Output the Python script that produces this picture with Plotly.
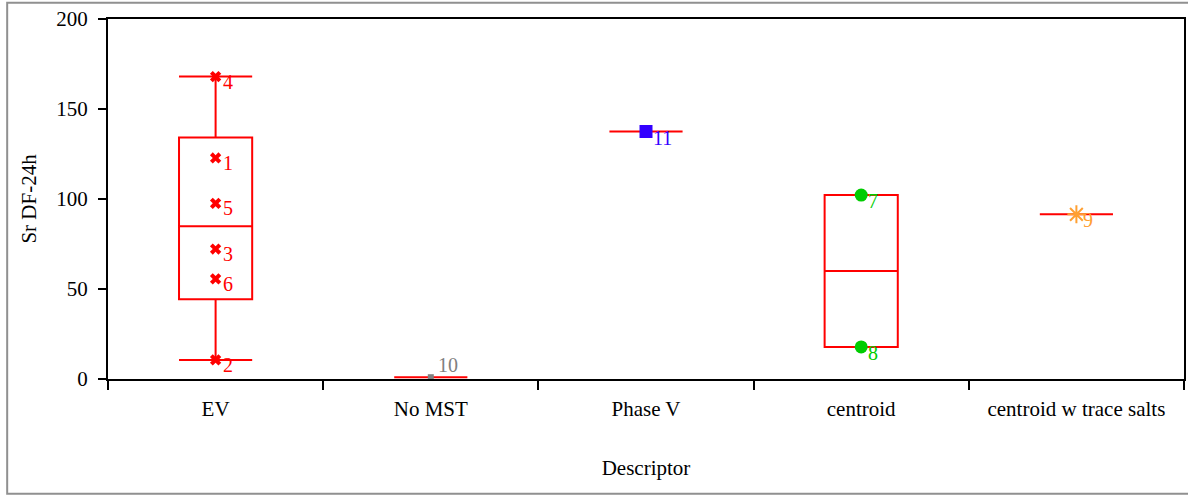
import numpy as np
import plotly.graph_objects as go

# Descriptor groups and the Sr DF-24h readings in each
categories = ["EV", "No MST", "Phase V", "centroid", "centroid w trace salts"]

ev_ids = ["4", "1", "5", "3", "6", "2"]
ev_vals = [168, 122.8, 97.6, 72.2, 55.6, 10.6]

nomst_ids = ["10"]
nomst_vals = [1.0]

phase_ids = ["11"]
phase_vals = [137.5]

centroid_ids = ["7", "8"]
centroid_vals = [102.2, 17.8]

salts_ids = ["9"]
salts_vals = [91.5]

groups = [
    ("EV", ev_ids, ev_vals, "#ff0000", "x", 10, -5),
    ("No MST", nomst_ids, nomst_vals, "#808080", "square", 6, 12),
    ("Phase V", phase_ids, phase_vals, "#3300ff", "square", 13, -6),
    ("centroid", centroid_ids, centroid_vals, "#00cc00", "circle", 13, -6),
    ("centroid w trace salts", salts_ids, salts_vals, "#ffa033", "asterisk-open", 15, -6),
]

FONT = "Liberation Serif, Times New Roman, serif"

# Box statistics: quantiles at p*(n+1), whiskers at the data extremes
names, q1s, meds, q3s, los, his = [], [], [], [], [], []
for name, ids, vals, *_ in groups:
    v = np.asarray(vals, dtype=float)
    names.append(name)
    q1s.append(float(np.percentile(v, 25, method="weibull")))
    meds.append(float(np.percentile(v, 50, method="weibull")))
    q3s.append(float(np.percentile(v, 75, method="weibull")))
    los.append(float(v.min()))
    his.append(float(v.max()))

fig = go.Figure()

fig.add_trace(go.Box(
    x=names,
    q1=q1s, median=meds, q3=q3s,
    lowerfence=los, upperfence=his,
    boxpoints=False,
    width=0.34,
    whiskerwidth=1,
    line=dict(color="#ff0000", width=2),
    fillcolor="rgba(0,0,0,0)",
    showlegend=False,
    hoverinfo="skip",
))

# Individual points, each tagged with its run number
annotations = []
for name, ids, vals, color, symbol, size, dy in groups:
    mline = dict(color=color, width=2) if symbol == "asterisk-open" else dict(width=0)
    fig.add_trace(go.Scatter(
        x=[name] * len(vals), y=vals,
        mode="markers",
        marker=dict(symbol=symbol, size=size, color=color, line=mline),
        showlegend=False,
        cliponaxis=False,
    ))
    for lab, val in zip(ids, vals):
        annotations.append(dict(
            x=name, y=val, xref="x", yref="y",
            text=lab, showarrow=False,
            xanchor="left", yanchor="middle",
            xshift=5, yshift=dy,
            font=dict(family=FONT, size=20, color=color),
        ))

fig.update_layout(
    width=1188, height=496,
    margin=dict(l=108, r=2, t=19, b=117),
    paper_bgcolor="white",
    plot_bgcolor="white",
    font=dict(family=FONT, size=21, color="black"),
    annotations=annotations,
    shapes=[dict(
        type="rect", xref="paper", yref="paper",
        x0=-0.0937, x1=1.03, y0=-0.319, y1=1.045,
        line=dict(color="#909090", width=2),
        fillcolor="rgba(0,0,0,0)", layer="below",
    )],
)

fig.update_xaxes(
    type="category",
    categoryorder="array", categoryarray=categories,
    range=[-0.5, 4.5],
    showline=True, linecolor="black", linewidth=2, mirror=True,
    ticks="outside", tickson="boundaries", ticklen=9, tickwidth=2, tickcolor="black",
    ticklabelstandoff=10,
    showgrid=False, zeroline=False,
    tickfont=dict(family=FONT, size=21),
    title=dict(text="Descriptor", font=dict(family=FONT, size=21), standoff=40),
)

fig.update_yaxes(
    range=[0, 200],
    tickvals=[0, 50, 100, 150, 200],
    showline=True, linecolor="black", linewidth=2, mirror=True,
    ticks="outside", ticklen=8, tickwidth=2, tickcolor="black",
    ticklabelstandoff=6,
    showgrid=False, zeroline=False,
    tickfont=dict(family=FONT, size=21),
    title=dict(text="Sr DF-24h", font=dict(family=FONT, size=21), standoff=14),
)

fig.write_html("out.html")
